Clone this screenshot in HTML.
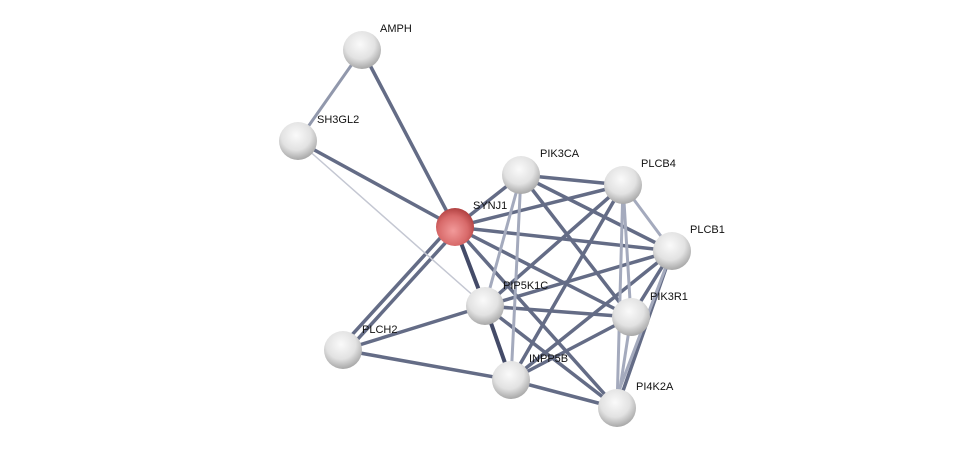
<!DOCTYPE html>
<html><head><meta charset="utf-8"><style>
html,body{margin:0;padding:0;background:#fff;width:975px;height:453px;overflow:hidden}
text{font-family:"Liberation Sans",sans-serif;font-size:11px;fill:#111}
</style></head><body>
<svg width="975" height="453" viewBox="0 0 975 453" xmlns="http://www.w3.org/2000/svg">
<defs>
<radialGradient id="g" cx="45%" cy="35%" r="65%">
<stop offset="0" stop-color="#fafafa"/><stop offset="0.6" stop-color="#e2e2e2"/><stop offset="1" stop-color="#a8a8a8"/>
</radialGradient>
<radialGradient id="r" cx="45%" cy="60%" r="65%">
<stop offset="0" stop-color="#f29a9a"/><stop offset="0.6" stop-color="#d86a6a"/><stop offset="1" stop-color="#a83838"/>
</radialGradient>
</defs>
<g stroke-linecap="round">
<!-- dark edges -->
<g stroke="#5c6580" stroke-width="3.5" opacity="0.95">
<line x1="362" y1="50" x2="298" y2="141" stroke="#8c93a8" stroke-width="3"/>
<line x1="362" y1="50" x2="455" y2="227"/>
<line x1="298" y1="141" x2="455" y2="227"/>
<line x1="455" y1="227" x2="521" y2="175"/>
<line x1="455" y1="227" x2="623" y2="185"/>
<line x1="455" y1="227" x2="672" y2="251"/>
<line x1="455" y1="227" x2="485" y2="306" stroke="#3a4260" stroke-width="4"/>
<line x1="455" y1="227" x2="631" y2="317"/>
<line x1="452" y1="225" x2="340" y2="348"/>
<line x1="458" y1="229" x2="346" y2="352"/>
<line x1="455" y1="227" x2="617" y2="408"/>
<line x1="521" y1="175" x2="623" y2="185"/>
<line x1="521" y1="175" x2="672" y2="251"/>
<line x1="521" y1="175" x2="631" y2="317"/>
<line x1="623" y1="185" x2="485" y2="306"/>
<line x1="623" y1="185" x2="511" y2="380"/>
<line x1="672" y1="251" x2="485" y2="306"/>
<line x1="672" y1="251" x2="511" y2="380"/>
<line x1="672" y1="251" x2="631" y2="317"/>
<line x1="485" y1="306" x2="343" y2="350"/>
<line x1="485" y1="306" x2="631" y2="317"/>
<line x1="485" y1="306" x2="511" y2="380" stroke="#3a4260" stroke-width="4"/>
<line x1="485" y1="306" x2="617" y2="408"/>
<line x1="343" y1="350" x2="511" y2="380"/>
<line x1="511" y1="380" x2="617" y2="408"/>
<line x1="511" y1="380" x2="631" y2="317"/>
<line x1="672" y1="251" x2="617" y2="408"/>
</g>
<!-- light edges -->
<g stroke="#a4aabd" stroke-width="3">
<line x1="521" y1="175" x2="485" y2="306"/>
<line x1="521" y1="175" x2="511" y2="380"/>
<line x1="623" y1="185" x2="672" y2="251"/>
<line x1="623" y1="185" x2="631" y2="317"/>
<line x1="623" y1="185" x2="617" y2="408"/>
<line x1="631" y1="317" x2="617" y2="408"/>
<line x1="672" y1="251" x2="613" y2="406"/>
</g>
<line x1="298" y1="141" x2="485" y2="306" stroke="#c4c7d2" stroke-width="1.5"/>
</g>
<g>
<circle cx="362" cy="50" r="19" fill="url(#g)"/>
<circle cx="298" cy="141" r="19" fill="url(#g)"/>
<circle cx="521" cy="175" r="19" fill="url(#g)"/>
<circle cx="623" cy="185" r="19" fill="url(#g)"/>
<circle cx="672" cy="251" r="19" fill="url(#g)"/>
<circle cx="485" cy="306" r="19" fill="url(#g)"/>
<circle cx="631" cy="317" r="19" fill="url(#g)"/>
<circle cx="343" cy="350" r="19" fill="url(#g)"/>
<circle cx="511" cy="380" r="19" fill="url(#g)"/>
<circle cx="617" cy="408" r="19" fill="url(#g)"/>
<circle cx="455" cy="227" r="19" fill="url(#r)"/>
</g>
<text x="380" y="32">AMPH</text>
<text x="317" y="123">SH3GL2</text>
<text x="473" y="209">SYNJ1</text>
<text x="540" y="157">PIK3CA</text>
<text x="641" y="167">PLCB4</text>
<text x="690" y="233">PLCB1</text>
<text x="503" y="289">PIP5K1C</text>
<text x="650" y="300">PIK3R1</text>
<text x="362" y="333">PLCH2</text>
<text x="529" y="362">INPP5B</text>
<text x="636" y="390">PI4K2A</text>
</svg>
</body></html>
